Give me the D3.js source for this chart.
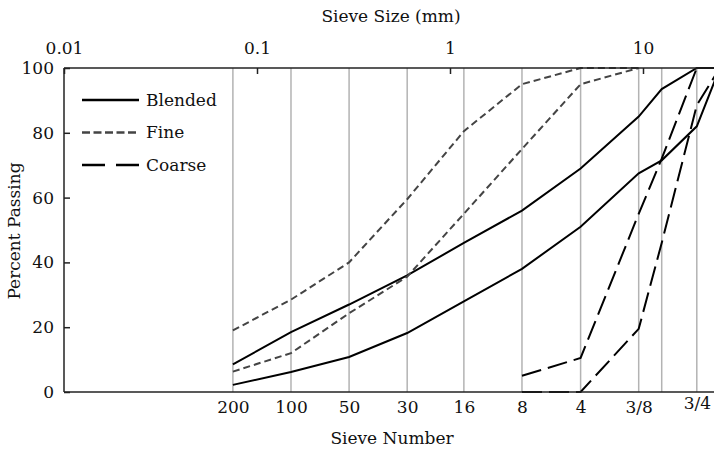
<!DOCTYPE html>
<html>
<head>
<meta charset="utf-8">
<script src="https://cdn.jsdelivr.net/npm/d3@7"></script>
<style>
  html, body { margin: 0; padding: 0; background: #fff; }
  svg { display: block; }
  text { font-family: "DejaVu Serif", serif; fill: #111; }
</style>
</head>
<body>
<svg id="chart" width="714" height="451"></svg>
<script>
// ---- data ----
const sieveLabels = ["200", "100", "50", "30", "16", "8", "4", "3/8", "1/2", "3/4", "1"];
const sieveSizes  = [0.075, 0.15, 0.3, 0.6, 1.18, 2.36, 4.75, 9.5, 12.5, 19, 25];
const shownLabels = ["200", "100", "50", "30", "16", "8", "4", "3/8", "3/4"];
const topTicks = [0.01, 0.1, 1, 10];
const yTicks = [0, 20, 40, 60, 80, 100];

const blendedUpper = [8.5, 18.5, 27, 36, 46, 56, 69, 85, 93.5, 100, 100];
const blendedLower = [2.2, 6.2, 10.8, 18.2, 28, 38, 51, 67.5, 71.5, 82, 100];
const fineSizes  = [0.075, 0.15, 0.3, 0.6, 1.18, 2.36, 4.75, 9.5];
const fineUpper  = [19, 28.5, 40, 59.5, 80.5, 95, 100, 100];
const fineLower  = [6.3, 12, 24.3, 35.6, 55, 75, 95, 100];
const coarseSizes = [2.36, 4.75, 9.5, 12.5, 19, 25];
const coarseUpper = [5, 10.5, 55, 72, 100, 100];
const coarseLower = [0, 0, 19.5, 46, 88.5, 100];

const legendItems = ["Blended", "Fine", "Coarse"];

// ---- layout ----
const svg = d3.select("#chart");
const pLeft = 64, pTop = 68, pBottom = 392;
const x = d3.scaleLog().domain([0.01, 25]).range([pLeft, pLeft + Math.log10(2500) * 193]);
const y = d3.scaleLinear().domain([0, 100]).range([pBottom, pTop]);

const styles = {
  Blended: { stroke: "#000", dash: null, width: 2 },
  Fine:    { stroke: "#444", dash: "7,4", width: 2 },
  Coarse:  { stroke: "#000", dash: "20,7", width: 2 }
};

// gridlines
svg.append("g").selectAll("line")
  .data(sieveSizes.filter(d => x(d) < 714))
  .join("line")
  .attr("x1", d => x(d)).attr("x2", d => x(d))
  .attr("y1", pTop).attr("y2", pBottom)
  .attr("stroke", "#b3b3b3").attr("stroke-width", 1.5);

// series
const line = d3.line().x(d => x(d[0])).y(d => y(d[1]));
function drawSeries(sizes, vals, st) {
  svg.append("path")
    .datum(sizes.map((s, i) => [s, vals[i]]))
    .attr("d", line)
    .attr("fill", "none")
    .attr("stroke", st.stroke)
    .attr("stroke-width", st.width)
    .attr("stroke-dasharray", st.dash);
}
drawSeries(sieveSizes, blendedUpper, styles.Blended);
drawSeries(sieveSizes, blendedLower, styles.Blended);
drawSeries(fineSizes, fineUpper, styles.Fine);
drawSeries(fineSizes, fineLower, styles.Fine);
drawSeries(coarseSizes, coarseUpper, styles.Coarse);
drawSeries(coarseSizes, coarseLower, styles.Coarse);

// axes
const yAxis = d3.axisLeft(y).tickValues(yTicks).tickSize(-6).tickPadding(10);
const gy = svg.append("g").attr("transform", `translate(${pLeft},0)`).call(yAxis);
gy.select(".domain").remove();
gy.selectAll("line").attr("stroke", "#222").attr("stroke-width", 1.5);
gy.selectAll("text").style("font-size", "17px").style("font-family", "DejaVu Serif, serif").attr("fill", "#111");

const topAxis = d3.axisTop(x).tickValues(topTicks).tickFormat(d => String(d)).tickSize(-6).tickPadding(14);
const gt = svg.append("g").attr("transform", `translate(0,${pTop})`).call(topAxis);
gt.select(".domain").remove();
gt.selectAll("line").attr("stroke", "#222").attr("stroke-width", 1.5);
gt.selectAll("text").style("font-size", "17px").style("font-family", "DejaVu Serif, serif").attr("fill", "#111");

const bottomAxis = d3.axisBottom(x)
  .tickValues(shownLabels.map(l => sieveSizes[sieveLabels.indexOf(l)]))
  .tickFormat(d => sieveLabels[sieveSizes.indexOf(d)])
  .tickSize(0).tickPadding(9);
const gb = svg.append("g").attr("transform", `translate(0,${pBottom})`).call(bottomAxis);
gb.select(".domain").remove();
gb.selectAll("text").style("font-size", "17px").style("font-family", "DejaVu Serif, serif").attr("fill", "#111")
  .attr("dy", d => sieveLabels[sieveSizes.indexOf(d)] === "3/4" ? "0.45em" : "0.71em");

// frame lines
svg.append("line").attr("x1", pLeft).attr("x2", 714).attr("y1", pTop).attr("y2", pTop)
  .attr("stroke", "#222").attr("stroke-width", 1.5);
svg.append("line").attr("x1", pLeft).attr("x2", 714).attr("y1", pBottom).attr("y2", pBottom)
  .attr("stroke", "#222").attr("stroke-width", 1.5);
svg.append("line").attr("x1", pLeft).attr("x2", pLeft).attr("y1", pTop).attr("y2", pBottom)
  .attr("stroke", "#222").attr("stroke-width", 1.5);

// titles
svg.append("text").attr("x", 391).attr("y", 22).attr("text-anchor", "middle")
  .style("font-size", "17px").text("Sieve Size (mm)");
svg.append("text").attr("x", 392).attr("y", 444).attr("text-anchor", "middle")
  .style("font-size", "17px").text("Sieve Number");
svg.append("text").attr("transform", "translate(20,231) rotate(-90)").attr("text-anchor", "middle")
  .style("font-size", "17px").text("Percent Passing");

// legend
const lg = svg.append("g");
legendItems.forEach((name, i) => {
  const yy = 100 + i * 32.5;
  const st = styles[name];
  lg.append("line").attr("x1", 82).attr("x2", 139).attr("y1", yy).attr("y2", yy)
    .attr("stroke", st.stroke).attr("stroke-width", st.width + 0.5)
    .attr("stroke-dasharray", name === "Coarse" ? "23,11" : (name === "Fine" ? "8,3.5" : null));
  lg.append("text").attr("x", 146).attr("y", yy).attr("dy", "0.35em")
    .style("font-size", "17px").text(name);
});
</script>
</body>
</html>
